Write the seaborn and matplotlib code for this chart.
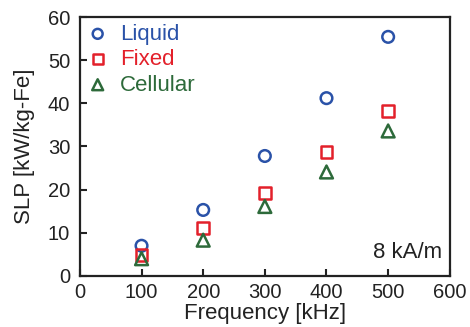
import matplotlib
matplotlib.use("Agg")
import matplotlib.pyplot as plt
import seaborn as sns
import pandas as pd

freq = [100, 200, 300, 400, 500]
liquid = [7.0, 15.3, 27.8, 41.2, 55.4]
fixed = [4.8, 11.1, 19.2, 28.7, 38.2]
cellular = [4.0, 8.3, 16.1, 24.1, 33.6]
series_names = ["Liquid", "Fixed", "Cellular"]
colors = ["#2a52a8", "#e3202a", "#2d6a3a"]
markers = ["o", "s", "^"]
sizes = [70, 70, 85]

sns.set_style("ticks")
plt.rcParams['font.family'] = ['Liberation Sans', 'DejaVu Sans']

fig = plt.figure(figsize=(4.7, 3.27), dpi=100)
ax = fig.add_axes([0.170, 0.156, 0.787, 0.792])

for name, vals, c, m, s in zip(series_names, [liquid, fixed, cellular], colors, markers, sizes):
    df = pd.DataFrame({"f": freq, "v": vals})
    sns.scatterplot(data=df, x="f", y="v", ax=ax, marker=m, s=s,
                    facecolor="none", edgecolor=c, linewidth=1.8, label=name, zorder=3)

ax.set_xlim(0, 600)
ax.set_ylim(0, 60)
ax.set_xticks([0, 100, 200, 300, 400, 500, 600])
ax.set_yticks([0, 10, 20, 30, 40, 50, 60])
ax.set_xlabel("Frequency [kHz]", fontsize=16, labelpad=1, color="#222222")
ax.set_ylabel("SLP [kW/kg-Fe]", fontsize=16, labelpad=9, color="#222222")
ax.tick_params(direction="in", length=5, width=1.5, labelsize=14.5, colors="#222222",
               top=False, right=False)
ax.tick_params(axis="y", pad=7)
ax.tick_params(axis="x", pad=5)
for sp in ax.spines.values():
    sp.set_linewidth(1.6)
    sp.set_color("#222222")
    sp.set_visible(True)

leg = ax.legend(loc="upper left", frameon=False, fontsize=16, handletextpad=0.5,
                labelspacing=0.2, borderaxespad=0.3, borderpad=0.0, handlelength=1.0,
                markerscale=0.85, bbox_to_anchor=(0.0, 1.0))
for txt, c in zip(leg.get_texts(), colors):
    txt.set_color(c)

ax.text(0.978, 0.09, "8 kA/m", transform=ax.transAxes, ha="right", va="center",
        fontsize=16, color="#222222")

fig.savefig("out.png", dpi=100)
